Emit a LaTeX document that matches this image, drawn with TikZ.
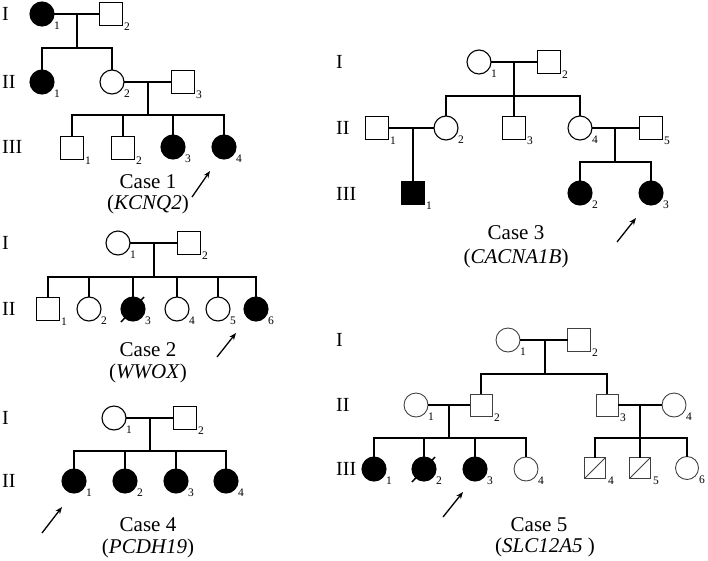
\documentclass[tikz,border=0pt]{standalone}
\usepackage{fontspec}
\setmainfont{Liberation Serif}
\usetikzlibrary{arrows.meta,calc}
\newcommand\pedF[5][]{\node[fem,#1] (#2) at (#3,#4) {}; \node[num] (#2n) at ({#3+15},{#4+12}) {#5};}
\newcommand\pedM[5][]{\node[mal,#1] (#2) at (#3,#4) {}; \node[num] (#2n) at ({#3+16},{#4+13}) {#5};}
\begin{document}
\begin{tikzpicture}[x=1pt,y=-1pt,
  fem/.style={circle,draw,line width=1.1pt,minimum size=24pt,inner sep=0pt,outer sep=0pt},
  mal/.style={rectangle,draw,line width=1.1pt,minimum size=23pt,inner sep=0pt,outer sep=0pt},
  aff/.style={fill=black},
  ln/.style={line width=1.8pt},
  num/.style={font=\fontsize{11.5}{11.5}\selectfont,inner sep=0pt},
  gen/.style={font=\fontsize{20}{20}\selectfont,anchor=west,inner sep=0pt},
  casetxt/.style={font=\fontsize{21}{21}\selectfont,inner sep=0pt},
  proband/.style={-{Stealth[length=7pt,width=5.5pt]},line width=1.3pt},
  slash/.style={line width=1.5pt},
  c5/.style={draw=black!75,line width=0.9pt}]
\useasboundingbox (0,0) rectangle (708,560);

% ---------------- Case 1 ----------------
\node[gen] (c1g1) at (2,14) {I};
\node[gen] (c1g2) at (2,82) {II};
\node[gen] (c1g3) at (2,147) {III};
\pedF[aff]{c1a}{42}{14}{1}
\pedM{c1b}{111}{14}{2}
\pedF[aff]{c1c}{42}{82}{1}
\pedF{c1d}{112}{82}{2}
\pedM{c1e}{183}{82}{3}
\pedM{c1f}{72}{148}{1}
\pedM{c1g}{123}{148}{2}
\pedF[aff]{c1h}{173}{147}{3}
\pedF[aff]{c1i}{224}{147}{4}
\coordinate (c1m1) at (77,14); \coordinate (c1s1) at (77,48);
\draw[ln] (c1a) -- (c1b);
\draw[ln] (c1m1) -- (c1s1);
\draw[ln] (c1c.north) |- (c1s1) -| (c1d.north);
\coordinate (c1m2) at (148,82); \coordinate (c1s2) at (148,115);
\draw[ln] (c1d) -- (c1e);
\draw[ln] (c1m2) -- (c1s2);
\draw[ln] (c1f.north) |- (c1s2) -| (c1i.north);
\draw[ln] (c1g.north) -- (c1g.north |- c1s2);
\draw[ln] (c1h.north) -- (c1h.north |- c1s2);
\node[casetxt] (c1t) at (148,182) {Case 1};
\node[casetxt] (c1u) at (148,204) {(\textit{KCNQ2})};
\coordinate (c1p0) at (192,197); \coordinate (c1p1) at (210,171);
\draw[proband] (c1p0) -- (c1p1);

% ---------------- Case 2 ----------------
\node[gen] (c2g1) at (2,243) {I};
\node[gen] (c2g2) at (2,309) {II};
\pedF{c2a}{118}{243}{1}
\pedM{c2b}{189}{243}{2}
\pedM{c2c}{48}{309}{1}
\pedF{c2d}{89}{309}{2}
\pedF[aff]{c2e}{133}{309}{3}
\pedF{c2f}{177}{309}{4}
\pedF{c2g}{218}{309}{5}
\pedF[aff]{c2h}{256}{309}{6}
\coordinate (c2m1) at (154,243); \coordinate (c2s1) at (154,277);
\draw[ln] (c2a) -- (c2b);
\draw[ln] (c2m1) -- (c2s1);
\draw[ln] (c2c.north) |- (c2s1) -| (c2h.north);
\foreach \k in {c2d,c2e,c2f,c2g} \draw[ln] (\k.north) -- (\k.north |- c2s1);
\draw[slash] ($(c2e)+(-12,13)$) -- ($(c2e)+(11,-12)$);
\node[casetxt] (c2t) at (148,350) {Case 2};
\node[casetxt] (c2u) at (148,373) {(\textit{WWOX})};
\coordinate (c2p0) at (217,357); \coordinate (c2p1) at (236,333);
\draw[proband] (c2p0) -- (c2p1);

% ---------------- Case 4 ----------------
\node[gen] (c4g1) at (2,418) {I};
\node[gen] (c4g2) at (2,481) {II};
\pedF{c4a}{114}{418}{1}
\pedM{c4b}{185}{418}{2}
\pedF[aff]{c4c}{74}{481}{1}
\pedF[aff]{c4d}{125}{481}{2}
\pedF[aff]{c4e}{176}{481}{3}
\pedF[aff]{c4f}{226}{481}{4}
\coordinate (c4m1) at (150,418); \coordinate (c4s1) at (150,451);
\draw[ln] (c4a) -- (c4b);
\draw[ln] (c4m1) -- (c4s1);
\draw[ln] (c4c.north) |- (c4s1) -| (c4f.north);
\foreach \k in {c4d,c4e} \draw[ln] (\k.north) -- (\k.north |- c4s1);
\node[casetxt] (c4t) at (148,525) {Case 4};
\node[casetxt] (c4u) at (148,548) {(\textit{PCDH19})};
\coordinate (c4p0) at (42,533); \coordinate (c4p1) at (62,507);
\draw[proband] (c4p0) -- (c4p1);

% ---------------- Case 3 ----------------
\node[gen] (c3g1) at (336,62) {I};
\node[gen] (c3g2) at (336,128) {II};
\node[gen] (c3g3) at (336,194) {III};
\pedF{c3a}{479}{62}{1}
\pedM{c3b}{549}{62}{2}
\pedM{c3c}{377}{128}{1}
\pedF{c3d}{446}{128}{2}
\pedM{c3e}{514}{128}{3}
\pedF{c3f}{580}{128}{4}
\pedM{c3g}{651}{128}{5}
\pedM[aff]{c3h}{413}{193}{1}
\pedF[aff]{c3i}{580}{193}{2}
\pedF[aff]{c3j}{651}{193}{3}
\coordinate (c3m1) at (514,62); \coordinate (c3s1) at (514,96);
\draw[ln] (c3a) -- (c3b);
\draw[ln] (c3m1) -- (c3s1);
\draw[ln] (c3d.north) |- (c3s1) -| (c3f.north);
\draw[ln] (c3e.north) -- (c3s1);
\coordinate (c3m2) at (413,128);
\draw[ln] (c3c) -- (c3d);
\draw[ln] (c3m2) -- (c3h.north);
\coordinate (c3m3) at (615,128); \coordinate (c3s3) at (615,162);
\draw[ln] (c3f) -- (c3g);
\draw[ln] (c3m3) -- (c3s3);
\draw[ln] (c3i.north) |- (c3s3) -| (c3j.north);
\node[casetxt] (c3t) at (516,233) {Case 3};
\node[casetxt] (c3u) at (516,258) {(\textit{CACNA1B})};
\coordinate (c3p0) at (617,242); \coordinate (c3p1) at (636,218);
\draw[proband] (c3p0) -- (c3p1);

% ---------------- Case 5 ----------------
\node[gen] (c5g1) at (336,340) {I};
\node[gen] (c5g2) at (336,405) {II};
\node[gen] (c5g3) at (336,469) {III};
\pedF[c5]{c5a}{508}{340}{1}
\pedM[c5]{c5b}{579}{340}{2}
\pedF[c5]{c5c}{416}{405}{1}
\pedM[c5,minimum size=22pt]{c5d}{481}{405}{2}
\pedM[c5,minimum size=22pt]{c5e}{607}{405}{3}
\pedF[c5]{c5f}{674}{405}{4}
\pedF[aff]{c5g}{374}{469}{1}
\pedF[aff]{c5h}{424}{469}{2}
\pedF[aff]{c5i}{475}{469}{3}
\pedF[c5]{c5j}{526}{469}{4}
\pedM[c5,minimum size=21pt]{c5k}{595}{468}{4}
\pedM[c5,minimum size=21pt]{c5l}{640}{468}{5}
\pedF[c5,minimum size=23pt]{c5m}{687}{468}{6}
\coordinate (c5m1) at (545,340); \coordinate (c5s1) at (545,374);
\draw[ln] (c5a) -- (c5b);
\draw[ln] (c5m1) -- (c5s1);
\draw[ln] (c5d.north) |- (c5s1) -| (c5e.north);
\coordinate (c5m2) at (449,405); \coordinate (c5s2) at (449,438);
\draw[ln] (c5c) -- (c5d);
\draw[ln] (c5m2) -- (c5s2);
\draw[ln] (c5g.north) |- (c5s2) -| (c5j.north);
\foreach \k in {c5h,c5i} \draw[ln] (\k.north) -- (\k.north |- c5s2);
\coordinate (c5m3) at (640,405); \coordinate (c5s3) at (640,438);
\draw[ln] (c5e) -- (c5f);
\draw[ln] (c5m3) -- (c5s3);
\draw[ln] (c5k.north) |- (c5s3) -| (c5m.north);
\draw[ln] (c5l.north) -- (c5s3);
\draw[slash] ($(c5h)+(-12,13)$) -- ($(c5h)+(11,-12)$);
\draw[c5,line width=1pt] (c5k.south west) -- (c5k.north east);
\draw[c5,line width=1pt] (c5l.south west) -- (c5l.north east);
\node[casetxt] (c5t) at (539,525) {Case 5};
\node[casetxt] (c5u) at (545,547) {(\textit{SLC12A5} )};
\coordinate (c5p0) at (443,517); \coordinate (c5p1) at (463,492);
\draw[proband] (c5p0) -- (c5p1);
\end{tikzpicture}
\end{document}
